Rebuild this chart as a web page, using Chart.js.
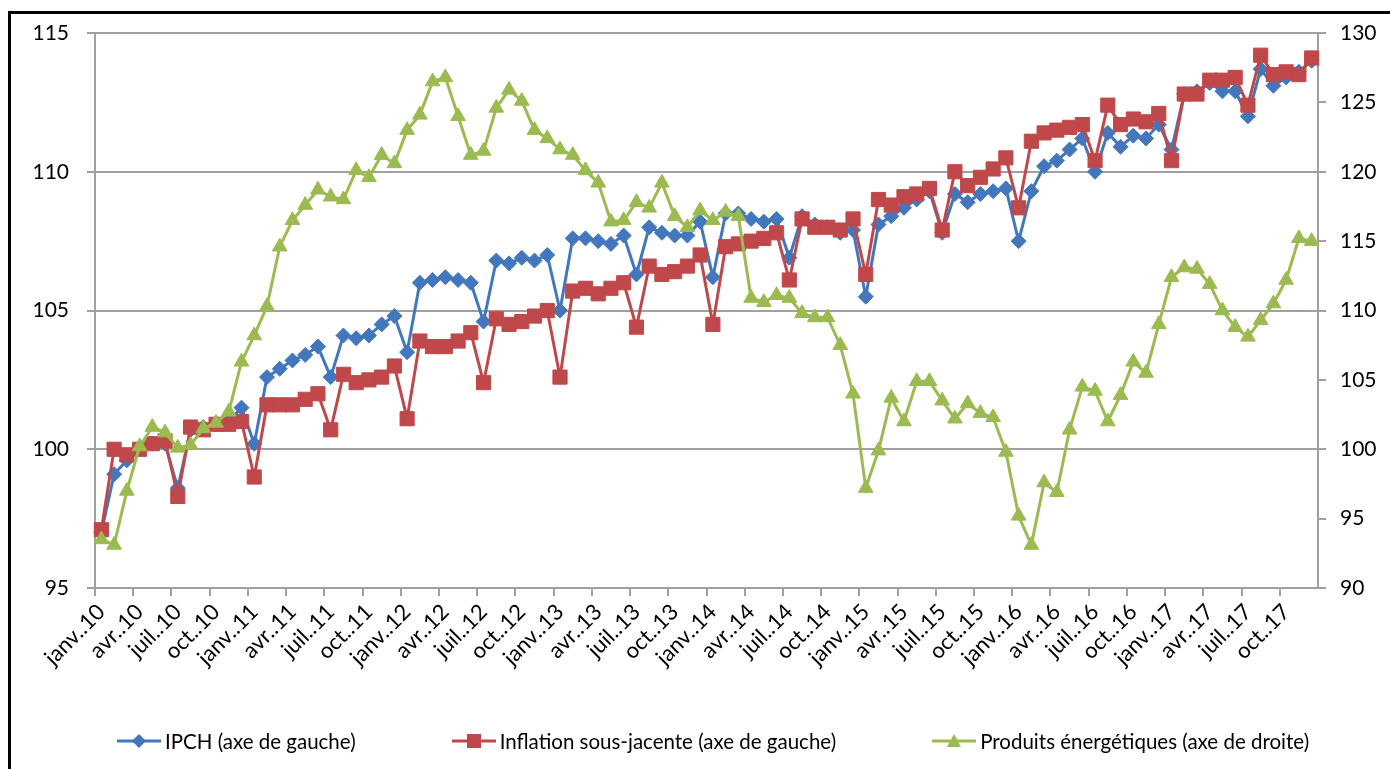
<!DOCTYPE html>
<html lang="fr">
<head>
<meta charset="utf-8">
<script src="https://cdn.jsdelivr.net/npm/chart.js@4.4.1/dist/chart.umd.min.js"></script>
<style>
  html, body { margin: 0; padding: 0; background: #fff; }
  #wrap { position: relative; width: 1390px; height: 769px; overflow: hidden; }
  #frame { position: absolute; left: 8px; top: 11px; right: -10px; bottom: -10px;
           border-left: 3px solid #000; border-top: 3px solid #000; pointer-events: none; }
  #legend { position: absolute; left: 117px; top: 729px; display: flex; gap: 96px;
            font-family: Lato, "Liberation Sans", sans-serif; font-size: 20.5px; color: #000; }
  .item { display: flex; align-items: center; gap: 4px; white-space: nowrap; }
</style>
</head>
<body>
<div id="wrap">
  <canvas id="chart" width="1390" height="769"></canvas>
  <div id="frame"></div>
  <div id="legend"></div>
</div>
<script>
// Months (Excel "mmm.yy" style, hence the double dot)
const monthNames = ["janv.", "févr.", "mars", "avr.", "mai", "juin", "juil.", "août", "sept.", "oct.", "nov.", "déc."];
const years = ["10", "11", "12", "13", "14", "15", "16", "17"];

// Left axis ticks / right axis ticks
const leftTicks = [95, 100, 105, 110, 115];
const rightTicks = [90, 95, 100, 105, 110, 115, 120, 125, 130];

// IPCH (axe de gauche)
const ipch = [
  97.0, 99.1, 99.6, 100.0, 100.2, 100.2, 98.6, 100.7, 100.8, 100.9, 101.0, 101.5,
  100.2, 102.6, 102.9, 103.2, 103.4, 103.7, 102.6, 104.1, 104.0, 104.1, 104.5, 104.8,
  103.5, 106.0, 106.1, 106.2, 106.1, 106.0, 104.6, 106.8, 106.7, 106.9, 106.8, 107.0,
  105.0, 107.6, 107.6, 107.5, 107.4, 107.7, 106.3, 108.0, 107.8, 107.7, 107.7, 108.2,
  106.2, 108.5, 108.5, 108.3, 108.2, 108.3, 106.9, 108.4, 108.1, 108.0, 107.8, 107.9,
  105.5, 108.1, 108.4, 108.7, 109.0, 109.3, 107.8, 109.2, 108.9, 109.2, 109.3, 109.4,
  107.5, 109.3, 110.2, 110.4, 110.8, 111.2, 110.0, 111.4, 110.9, 111.3, 111.2, 111.7,
  110.8, 112.8, 112.9, 113.2, 112.9, 112.9, 112.0, 113.7, 113.1, 113.4, 113.6, 114.0
];

// Inflation sous-jacente (axe de gauche)
const inflation = [
  97.1, 100.0, 99.8, 100.0, 100.2, 100.3, 98.3, 100.8, 100.7, 100.9, 100.9, 101.0,
  99.0, 101.6, 101.6, 101.6, 101.8, 102.0, 100.7, 102.7, 102.4, 102.5, 102.6, 103.0,
  101.1, 103.9, 103.7, 103.7, 103.9, 104.2, 102.4, 104.7, 104.5, 104.6, 104.8, 105.0,
  102.6, 105.7, 105.8, 105.6, 105.8, 106.0, 104.4, 106.6, 106.3, 106.4, 106.6, 107.0,
  104.5, 107.3, 107.4, 107.5, 107.6, 107.8, 106.1, 108.3, 108.0, 108.0, 107.9, 108.3,
  106.3, 109.0, 108.8, 109.1, 109.2, 109.4, 107.9, 110.0, 109.5, 109.8, 110.1, 110.5,
  108.7, 111.1, 111.4, 111.5, 111.6, 111.7, 110.4, 112.4, 111.7, 111.9, 111.8, 112.1,
  110.4, 112.8, 112.8, 113.3, 113.3, 113.4, 112.4, 114.2, 113.5, 113.6, 113.5, 114.1
];

// Produits énergétiques (axe de droite)
const energie = [
  93.5, 93.1, 97.0, 100.2, 101.6, 101.2, 100.1, 100.3, 101.5, 101.9, 102.7, 106.3,
  108.2, 110.3, 114.6, 116.5, 117.6, 118.7, 118.2, 118.0, 120.1, 119.6, 121.2, 120.6,
  123.0, 124.1, 126.5, 126.8, 124.0, 121.2, 121.5, 124.6, 125.9, 125.1, 123.0, 122.4,
  121.6, 121.2, 120.1, 119.2, 116.4, 116.5, 117.8, 117.4, 119.2, 116.8, 116.0, 117.2,
  116.5, 117.1, 116.8, 110.9, 110.6, 111.1, 110.9, 109.8, 109.5, 109.5, 107.5, 104.0,
  97.2, 99.9, 103.7, 102.0, 104.9, 104.9, 103.5, 102.2, 103.3, 102.6, 102.3, 99.8,
  95.2, 93.1, 97.6, 96.9, 101.4, 104.5, 104.2, 102.0, 103.9, 106.3, 105.5, 109.0,
  112.4, 113.1, 113.0, 111.9, 110.0, 108.8, 108.1, 109.3, 110.5, 112.2, 115.2, 115.0
];

const BLUE = "#4377bd";
const RED = "#c0484a";
const GREEN = "#9bbb50";
const AXIS = "#a0a0a0";
const FONT = "Lato, 'Liberation Sans', sans-serif";

const labels = [];
years.forEach((y) => monthNames.forEach((m) => labels.push(m + "." + y)));

const series = [
  { label: "IPCH (axe de gauche)", data: ipch, color: BLUE, style: "rectRot", radius: 7.5, axis: "yL", order: 3 },
  { label: "Inflation sous-jacente (axe de gauche)", data: inflation, color: RED, style: "rect", radius: 10, axis: "yL", order: 2 },
  { label: "Produits énergétiques (axe de droite)", data: energie, color: GREEN, style: "triangle", radius: 8.5, axis: "yR", order: 1 },
];

const ctx = document.getElementById("chart").getContext("2d");

new Chart(ctx, {
  type: "line",
  data: {
    labels: labels,
    datasets: series.map((s) => ({
      label: s.label,
      data: s.data,
      yAxisID: s.axis,
      order: s.order,
      borderColor: s.color,
      backgroundColor: s.color,
      borderWidth: 3,
      tension: 0,
      pointStyle: s.style,
      pointRadius: s.radius,
      pointBorderWidth: 1,
      pointBackgroundColor: s.color,
      pointBorderColor: s.color,
    })),
  },
  options: {
    responsive: false,
    animation: false,
    devicePixelRatio: 1,
    layout: { padding: { top: 33, left: 0, right: 0, bottom: 0 } },
    plugins: {
      legend: { display: false },
      tooltip: { enabled: false },
    },
    scales: {
      x: {
        type: "category",
        offset: true,
        grid: {
          offset: true,
          drawOnChartArea: false,
          drawTicks: true,
          tickLength: 8,
          lineWidth: 2,
          color: (c) => (c.index % 3 === 0 ? AXIS : "rgba(0,0,0,0)"),
        },
        border: { color: AXIS, width: 2 },
        ticks: {
          autoSkip: false,
          maxRotation: 45,
          minRotation: 45,
          padding: 3,
          color: "#000",
          font: { family: FONT, size: 22 },
          callback: (v, i) => (i % 3 === 0 ? labels[i] : ""),
        },
        afterFit: (scale) => { scale.height = 769 - 588; },
      },
      yL: {
        position: "left",
        min: leftTicks[0],
        max: leftTicks[leftTicks.length - 1],
        afterBuildTicks: (scale) => { scale.ticks = leftTicks.map((v) => ({ value: v })); },
        grid: { color: AXIS, lineWidth: 2, tickLength: 8 },
        border: { color: AXIS, width: 2 },
        ticks: { padding: 18, color: "#000", font: { family: FONT, size: 21 } },
        afterFit: (scale) => { scale.width = 95; },
      },
      yR: {
        position: "right",
        min: rightTicks[0],
        max: rightTicks[rightTicks.length - 1],
        afterBuildTicks: (scale) => { scale.ticks = rightTicks.map((v) => ({ value: v })); },
        grid: { drawOnChartArea: false, color: AXIS, lineWidth: 2, tickLength: 8 },
        border: { color: AXIS, width: 2 },
        ticks: { padding: 14, color: "#000", font: { family: FONT, size: 21 } },
        afterFit: (scale) => { scale.width = 72; },
      },
    },
  },
});

// Legend built as HTML: line sample with its marker, then the label
function markerSvg(s) {
  let mark = "";
  if (s.style === "rectRot") mark = '<polygon points="22,1 29,8 22,15 15,8" fill="' + s.color + '"/>';
  else if (s.style === "rect") mark = '<rect x="15" y="1" width="14" height="14" fill="' + s.color + '"/>';
  else mark = '<polygon points="22,1 29,14 15,14" fill="' + s.color + '"/>';
  return '<svg width="44" height="16" viewBox="0 0 44 16">' +
    '<line x1="0" y1="8" x2="44" y2="8" stroke="' + s.color + '" stroke-width="3"/>' + mark + "</svg>";
}

const legend = document.getElementById("legend");
series.forEach((s) => {
  const item = document.createElement("div");
  item.className = "item";
  item.innerHTML = markerSvg(s) + "<span>" + s.label + "</span>";
  legend.appendChild(item);
});
</script>
</body>
</html>
